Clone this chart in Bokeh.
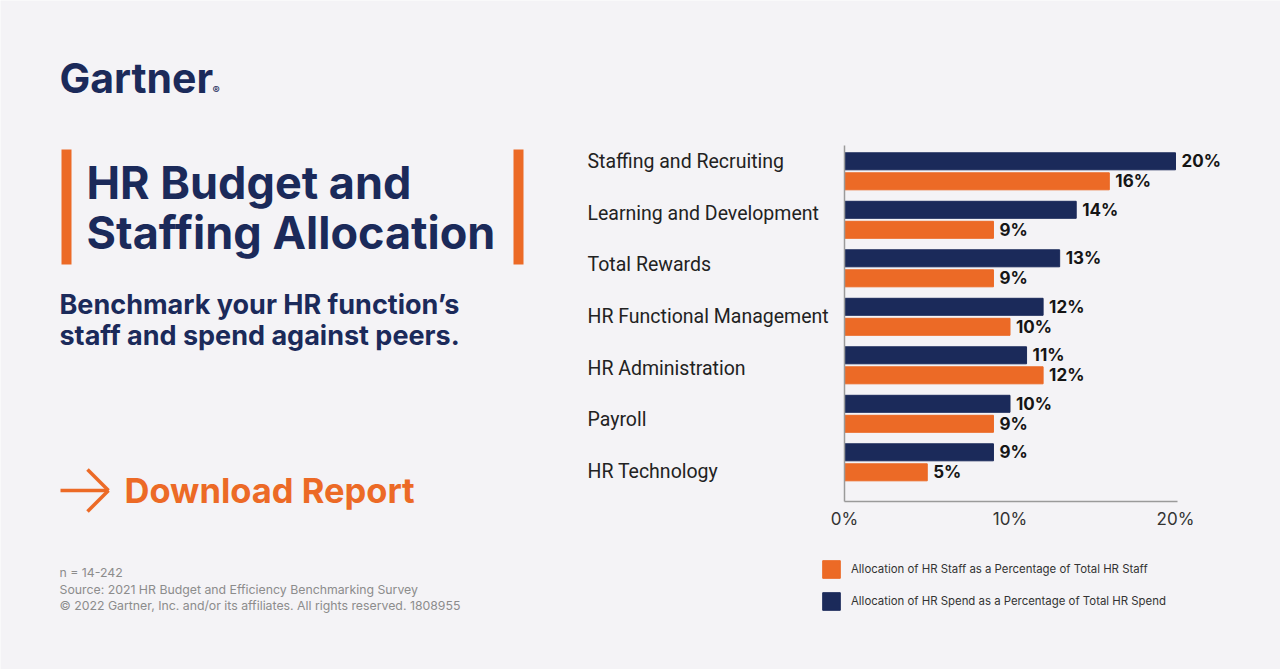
from bokeh.plotting import figure
from bokeh.models import (Range1d, ColumnDataSource, LabelSet, Label, FixedTicker,
                          BoxAnnotation, Arrow, Legend, LegendItem, LinearAxis)
from bokeh.core.properties import value
from bokeh.embed import file_html
from bokeh.resources import INLINE
import numpy as np

# ---------------- data ----------------
categories = ["Staffing and Recruiting", "Learning and Development", "Total Rewards",
              "HR Functional Management", "HR Administration", "Payroll", "HR Technology"]
spend = [20, 14, 13, 12, 11, 10, 9]   # Allocation of HR Spend (% of total HR spend)
staff = [16, 9, 9, 10, 12, 9, 5]      # Allocation of HR Staff (% of total HR staff)
tick_values = [0, 10, 20]
tick_labels = ["0%", "10%", "20%"]
series_names = ["Allocation of HR Staff as a Percentage of Total HR Staff",
                "Allocation of HR Spend as a Percentage of Total HR Spend"]
footnotes = ["n = 14-242",
             "Source: 2021 HR Budget and Efficiency Benchmarking Survey",
             "\u00a9 2022 Gartner, Inc. and/or its affiliates. All rights reserved. 1808955"]

# ---------------- style ----------------
NAVY = "#1b2a5a"
ORANGE = "#ec6a26"
BG = "#f4f3f6"
TXT = "#222222"
FONT = "Inter"

W, H = 1280, 669
FL, FR, FT, FB = 844, 1177, 145, 501   # chart area edges in page pixels
X_END = 20.12
PX_PER_X = (FR - FL) / X_END
ROW = 48.5
Y_TOP = -0.032
Y_BOT = Y_TOP + (FB - FT) / ROW


def dx(px):
    return (px - FL) / PX_PER_X


def dy(py):
    return Y_TOP + (py - FT) / ROW


p = figure(width=W, height=H, x_range=Range1d(dx(0), dx(W)), y_range=Range1d(dy(H), dy(0)),
           output_backend="svg", toolbar_location=None,
           x_axis_type=None, y_axis_type=None, min_border=0)
p.min_border_left = p.min_border_right = p.min_border_top = p.min_border_bottom = 0
p.background_fill_color = BG
p.border_fill_color = BG
p.outline_line_color = None
p.grid.visible = False

# axes (placed at the chart area edges)
xaxis = LinearAxis(fixed_location=Y_BOT, bounds=(0, X_END),
                   ticker=FixedTicker(ticks=tick_values))
xaxis.major_label_overrides = {v: l for v, l in zip(tick_values, tick_labels)}
xaxis.major_tick_line_color = None
xaxis.minor_tick_line_color = None
xaxis.major_label_standoff = 1
xaxis.major_label_text_font = FONT
xaxis.major_label_text_font_size = "17px"
xaxis.major_label_text_color = "#333333"
xaxis.axis_line_color = "#9a9a9a"
xaxis.axis_line_width = 1.5
p.add_layout(xaxis, "below")

yaxis = LinearAxis(fixed_location=0, bounds=(Y_TOP, Y_BOT), ticker=FixedTicker(ticks=[]))
yaxis.major_tick_line_color = None
yaxis.minor_tick_line_color = None
yaxis.major_label_text_color = None
yaxis.axis_line_color = "#9a9a9a"
yaxis.axis_line_width = 1.5
p.add_layout(yaxis, "left")

# bars
idx = np.arange(len(categories))
centers = idx + 0.5
off = 10 / ROW
src = ColumnDataSource(dict(
    cat=categories,
    spend=spend, staff=staff,
    y_spend=centers - off, y_staff=centers + off,
    spend_lbl=[f"{v}%" for v in spend],
    staff_lbl=[f"{v}%" for v in staff],
    lab_x=[dx(587)] * len(categories),
    lab_y=(centers - 0.5) * (51.67 / ROW) + dy(161),
))
bh = 17 / ROW
r_spend = p.hbar(y="y_spend", left=0, right="spend", height=bh, color=NAVY, source=src)
r_staff = p.hbar(y="y_staff", left=0, right="staff", height=bh, color=ORANGE, source=src)

for col, ycol, xcol in (("spend_lbl", "y_spend", "spend"), ("staff_lbl", "y_staff", "staff")):
    p.add_layout(LabelSet(x=xcol, y=ycol, text=col, source=src, x_offset=6,
                          text_baseline="middle", text_align="left",
                          text_font=value(FONT), text_font_style="bold",
                          text_font_size="17px", text_color="#151515"))

p.add_layout(LabelSet(x="lab_x", y="lab_y", text="cat", source=src,
                      text_baseline="middle", text_align="left",
                      text_font=value("Roboto"), text_font_size="19.5px",
                      text_color=TXT))

# legend
legend = Legend(items=[LegendItem(label=series_names[0], renderers=[r_staff]),
                       LegendItem(label=series_names[1], renderers=[r_spend])],
                location=(820, H - 612), orientation="vertical",
                glyph_width=22, glyph_height=22, spacing=10, label_standoff=9,
                padding=0, margin=0, border_line_color=None, background_fill_alpha=0,
                label_text_font=FONT, label_text_font_size="11.4px",
                label_text_color="#333333")
p.add_layout(legend, "center")

# ---------------- left panel texts ----------------
def lab(x, y, text, size, color=NAVY, style="bold", font=FONT):
    p.add_layout(Label(x=dx(x), y=dy(y), text=text, text_font=font,
                       text_font_size=size, text_font_style=style, text_color=color,
                       text_baseline="middle", text_align="left"))

lab(59, 77, "Gartner", "41px")
lab(212, 89, "\u00ae", "11px")

p.add_layout(BoxAnnotation(left=dx(61), right=dx(71), top=dy(149), bottom=dy(264),
                           fill_color=ORANGE, fill_alpha=1, line_alpha=0))
p.add_layout(BoxAnnotation(left=dx(513), right=dx(523), top=dy(149), bottom=dy(264),
                           fill_color=ORANGE, fill_alpha=1, line_alpha=0))

lab(86, 182, "HR Budget and", "45px")
lab(86, 231.5, "Staffing Allocation", "45px")

lab(59, 304, "Benchmark your HR function\u2019s", "27px")
lab(59, 335, "staff and spend against peers.", "27px")

# arrow icon
for (x0, y0, x1, y1) in ((60, 490, 108, 490), (87, 469, 108, 490), (87, 511, 108, 490)):
    p.add_layout(Arrow(x_start=dx(x0), y_start=dy(y0), x_end=dx(x1), y_end=dy(y1),
                       start=None, end=None, line_color=ORANGE, line_width=3.5))
lab(124, 490, "Download Report", "34.5px", color=ORANGE)

for i, t in enumerate(footnotes):
    lab(59, 572 + i * 16.5, t, "12.3px", color="#8c8c8c", style="normal")

with open("out.html", "w") as f:
    f.write(file_html(p, INLINE))
